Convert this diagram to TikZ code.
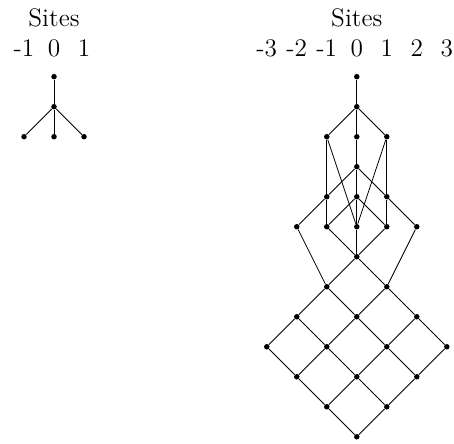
\documentclass[tikz,border=0pt]{standalone}
\begin{document}
\begin{tikzpicture}[x=0.5cm, y=-0.5cm,
    dot/.style={circle, fill, inner sep=0pt, minimum size=2.6pt},
    site/.style={anchor=base, font=\large}]
  \useasboundingbox (0,0) rectangle (15.13,14.77);
  % left: three sites
  \begin{scope}[shift={(1.8,2.556)}]
    \node[site] (ls) at (0,-1.67) {Sites};
    \foreach \x in {-1,0,1} {
      \node[site] (l\x) at (\x,-0.66) {\x};
    }
    \node[dot] (la) at (0,0) {};
    \node[dot] (lb) at (0,1) {};
    \foreach \x/\m in {-1/c1, 0/c2, 1/c3} {
      \node[dot] (l\m) at (\x,2) {};
      \draw (lb) -- (l\m);
    }
    \draw (la) -- (lb);
  \end{scope}
  % right: seven sites
  \begin{scope}[shift={(11.89,2.556)}]
    \node[site] (rs) at (0,-1.67) {Sites};
    \foreach \x in {-3,...,3} {
      \node[site] (r\x) at (\x,-0.66) {\x};
    }
    \foreach \m/\x/\y in {a/0/0, b/0/1, c1/-1/2, c2/0/2, c3/1/2, d/0/3,
        e1/-1/4, e2/0/4, e3/1/4, f1/-2/5, f2/-1/5, f3/0/5, f4/1/5, f5/2/5} {
      \node[dot] (\m) at (\x,\y) {};
    }
    \foreach \i in {0,...,3} {
      \foreach \j in {0,...,3} {
        \node[dot] (g\i\j) at (\j-\i,6+\i+\j) {};
      }
    }
    % upper part
    \foreach \p/\q in {a/b, b/c1, b/c2, b/c3, c1/e1, e1/f2, c3/e3, e3/f4,
        c1/f3, c3/f3, c2/d, d/e2, e2/f3, f3/g00, d/e1, e1/f1, d/e3, e3/f5,
        e2/f2, e2/f4, f2/g00, f4/g00, f1/g10, f5/g01} {
      \draw (\p) -- (\q);
    }
    % lower grid
    \foreach \i in {0,...,3} {
      \foreach \j in {0,1,2} {
        \pgfmathtruncatemacro{\k}{\j+1}
        \draw (g\i\j) -- (g\i\k);
        \draw (g\j\i) -- (g\k\i);
      }
    }
  \end{scope}
\end{tikzpicture}
\end{document}
